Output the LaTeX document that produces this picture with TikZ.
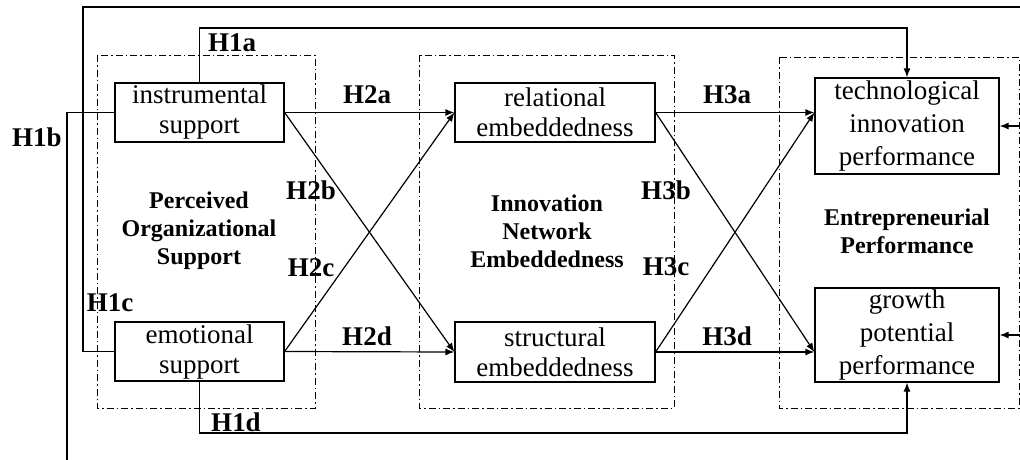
\documentclass[tikz,border=0pt]{standalone}
\usepackage{fontspec}
\setmainfont{Liberation Serif}
\usetikzlibrary{arrows.meta}
\begin{document}
\begin{tikzpicture}[x=1pt, y=-1pt,
  box/.style={draw, shape=rectangle, line width=1.2pt, inner sep=0pt,
    align=center, font=\fontsize{27}{30}\selectfont},
  tallbox/.style={box, font=\fontsize{27}{33}\selectfont},
  grouplabel/.style={align=center, font=\bfseries\fontsize{24}{28}\selectfont},
  hyp/.style={font=\bfseries\fontsize{27}{30}\selectfont},
  group/.style={line width=1pt, dash pattern=on 7pt off 3pt on 1.5pt off 3pt},
  arr/.style={-{Latex[length=9pt,width=7pt]}, line width=1.2pt}]
\useasboundingbox (0,0) rectangle (1020,459);
% dash-dot groups
\draw[group] (97,55) rectangle (315,408);
\draw[group] (419,55) rectangle (674,408);
\draw[group] (779,57) rectangle (1019,408);
\node (pos) [grouplabel] at (199,231) {Perceived\\Organizational\\Support};
\node (ine) [grouplabel] at (547,231) {Innovation\\Network\\Embeddedness};
\node (ep) [grouplabel] at (907,231) {Entrepreneurial\\Performance};
% variables
\node (inst) [box, minimum width=169pt, minimum height=59pt] at (199.5,112.5) {instrumental\\support};
\node (emo) [box, minimum width=169pt, minimum height=59pt] at (199.5,351.5) {emotional\\support};
\node (rel) [box, minimum width=200pt, minimum height=59pt] at (555,112.5) {relational\\embeddedness};
\node (str) [box, minimum width=200pt, minimum height=60pt] at (555,352) {structural\\embeddedness};
\node (tech) [tallbox, minimum width=184pt, minimum height=96pt] at (907,126) {technological\\innovation\\performance};
\node (grow) [tallbox, minimum width=184pt, minimum height=94pt] at (907,335) {growth\\potential\\performance};
% helper points
\coordinate (h1atop) at (0,28);
\coordinate (h1dbot) at (0,433);
\coordinate (h1cleft) at (83,7);
\coordinate (h1cright) at (1030,7);
\coordinate (h1bleft) at (67,470);
\coordinate (h1bright) at (1040,470);
\coordinate (techin) at (rel.east -| tech.west);
\coordinate (growin) at (str.east -| grow.west);
% H1
\draw[arr] (inst.north) -- (inst.north |- h1atop) -| (tech.north);
\draw[arr] (inst.west) -| (h1bleft) -- (h1bright) |- (grow.east);
\draw[arr] (emo.west) -| (h1cleft) -- (h1cright) |- (tech.east);
\draw[arr] (emo.south) -- (emo.south |- h1dbot) -| (grow.south);
% H2
\draw[arr] (inst.east) -- (rel.west);
\draw[arr] (inst.east) -- (str.west);
\draw[arr] (emo.east) -- (rel.west);
\draw[arr] (emo.east) -- (str.west);
% H3
\draw[arr] (rel.east) -- (techin);
\draw[arr] (rel.east) -- (growin);
\draw[arr] (str.east) -- (techin);
\draw[arr] (str.east) -- (growin);
% labels
\node (l1a) [hyp] at (232,43) {H1a};
\node (l1b) [hyp] at (37,137) {H1b};
\node (l1c) [hyp] at (110,303) {H1c};
\node (l1d) [hyp] at (236,422) {H1d};
\node (l2a) [hyp] at (367,95) {H2a};
\node (l2b) [hyp] at (311,190) {H2b};
\node (l2c) [hyp] at (311,268) {H2c};
\node (l2d) [hyp] at (367,336) {H2d};
\node (l3a) [hyp] at (727,95) {H3a};
\node (l3b) [hyp] at (666,190) {H3b};
\node (l3c) [hyp] at (666,267) {H3c};
\node (l3d) [hyp] at (727,336) {H3d};
\end{tikzpicture}
\end{document}
